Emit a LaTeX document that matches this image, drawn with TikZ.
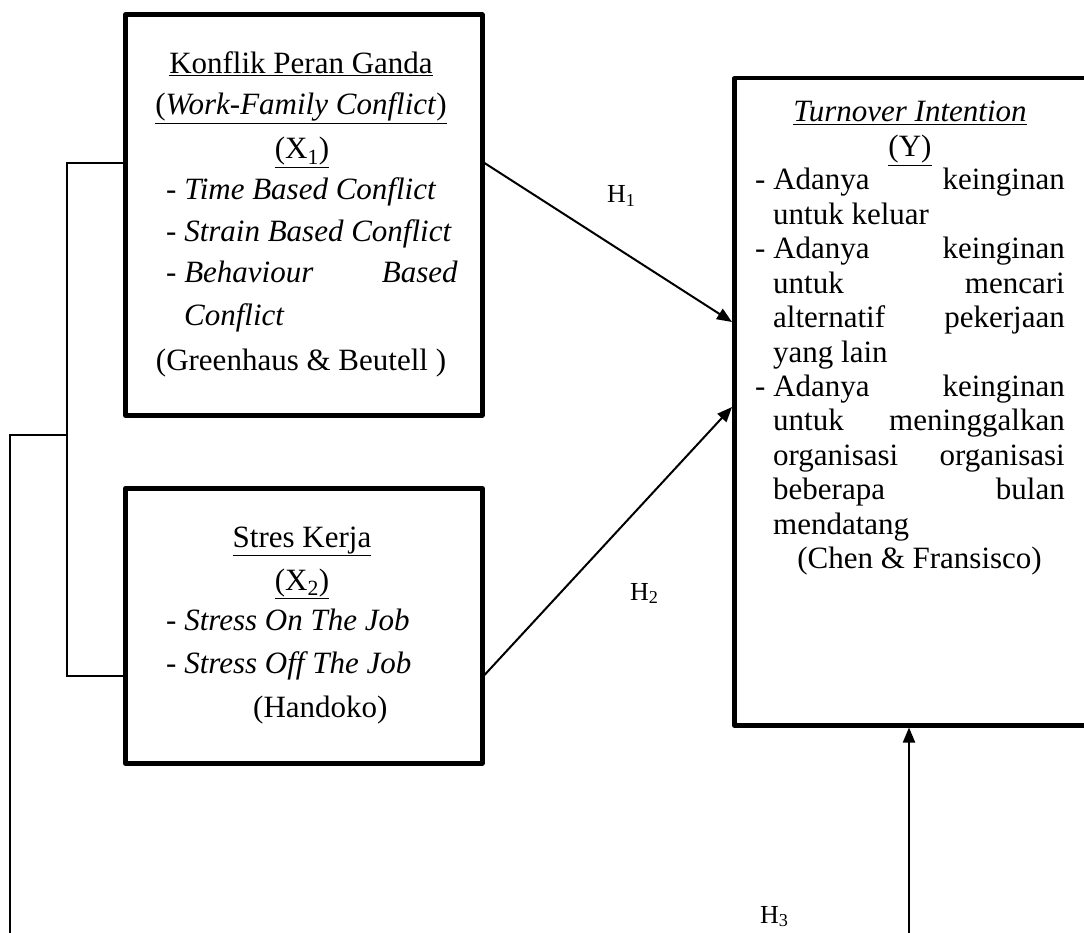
\documentclass[tikz,border=0pt]{standalone}
\usepackage{fontspec}
\setmainfont{Liberation Serif}
\usetikzlibrary{arrows.meta}
\begin{document}
\begin{tikzpicture}[x=1pt,y=-1pt,
  box/.style={draw, line width=4.5pt, line join=round, fill=white, inner sep=0pt},
  txt/.style={inner sep=0pt, font=\fontsize{31}{37}\selectfont},
  hlab/.style={inner sep=0pt, font=\fontsize{26}{30}\selectfont, anchor=base west},
  conn/.style={line width=1.3pt},
  arr/.style={line width=2pt, -{Triangle[length=15pt,width=12pt]}}]
\clip (0,0) rectangle (1084,933);
\fill[white] (0,0) rectangle (1084,933);

% boxes
\node[box, minimum width=357pt, minimum height=400.5pt, anchor=north west] (x1) at (123,12.5) {};
\node[box, minimum width=357pt, minimum height=275pt, anchor=north west] (x2) at (123,486) {};
\node[box, minimum width=363pt, minimum height=647pt, anchor=north west] (y) at (732,76) {};

% X1 text
\node[txt, anchor=base] (k1) at (301,74) {\underline{Konflik Peran Ganda}};
\node[txt, anchor=base] (k2) at (301,115) {\underline{(\textit{Work-Family Conflict})}};
\node[txt, anchor=base] (k3) at (302,159) {\underline{(X\textsubscript{1})}};
\node[txt, anchor=base west] (k4) at (166,200) {- \textit{Time Based Conflict}};
\node[txt, anchor=base west] (k5) at (166,242) {- \textit{Strain Based Conflict}};
\node[txt, anchor=base west] (k6) at (166,283) {- \textit{Behaviour}};
\node[txt, anchor=base east] (k6b) at (458,283) {\textit{Based}};
\node[txt, anchor=base west] (k7) at (184,325) {\textit{Conflict}};
\node[txt, anchor=base] (k8) at (301,370) {(Greenhaus \& Beutell )};

% X2 text
\node[txt, anchor=base] (s1) at (302,547) {\underline{Stres Kerja}};
\node[txt, anchor=base] (s2) at (302,590) {\underline{(X\textsubscript{2})}};
\node[txt, anchor=base west] (s3) at (166,630) {- \textit{Stress On The Job}};
\node[txt, anchor=base west] (s4) at (166,673) {- \textit{Stress Off The Job}};
\node[txt, anchor=base west] (s5) at (253,717) {(Handoko)};

% Y text
\node[txt, anchor=base] (y1) at (910,122) {\underline{\textit{Turnover Intention}}};
\node[txt, anchor=base] (y2) at (910,157) {\underline{(Y)}};
\node[txt, anchor=base west] (y3a) at (755,190) {- Adanya};
\node[txt, anchor=base east] (y3b) at (1065,190) {keinginan};
\node[txt, anchor=base west] (y4) at (773,224.4) {untuk keluar};
\node[txt, anchor=base west] (y5a) at (755,258.8) {- Adanya};
\node[txt, anchor=base east] (y5b) at (1065,258.8) {keinginan};
\node[txt, anchor=base west] (y6a) at (773,293.2) {untuk};
\node[txt, anchor=base east] (y6b) at (1065,293.2) {mencari};
\node[txt, anchor=base west] (y7a) at (773,327.6) {alternatif};
\node[txt, anchor=base east] (y7b) at (1065,327.6) {pekerjaan};
\node[txt, anchor=base west] (y8) at (773,362) {yang lain};
\node[txt, anchor=base west] (y9a) at (755,396.4) {- Adanya};
\node[txt, anchor=base east] (y9b) at (1065,396.4) {keinginan};
\node[txt, anchor=base west] (y10a) at (773,430.8) {untuk};
\node[txt, anchor=base east] (y10b) at (1065,430.8) {meninggalkan};
\node[txt, anchor=base west] (y11a) at (773,465.2) {organisasi};
\node[txt, anchor=base east] (y11b) at (1065,465.2) {organisasi};
\node[txt, anchor=base west] (y12a) at (773,499.6) {beberapa};
\node[txt, anchor=base east] (y12b) at (1065,499.6) {bulan};
\node[txt, anchor=base west] (y13) at (773,534) {mendatang};
\node[txt, anchor=base] (y14) at (919.5,568.4) {(Chen \& Fransisco)};

% hypothesis labels
\node[hlab] (h1) at (607,203) {H\textsubscript{1}};
\node[hlab] (h2) at (630,600) {H\textsubscript{2}};
\node[hlab] (h3) at (760,923) {H\textsubscript{3}};

% bracket
\coordinate (bt) at (67,163);
\coordinate (bb) at (67,676);
\coordinate (bm) at (67,435);
\coordinate (bl) at (10,435);
\coordinate (bend) at (10,945);
\draw[conn] (x1.west |- bt) -- (bt) -- (bb) -- (x2.west |- bb);
\draw[conn] (bm) -- (bl) -- (bend);

% arrows
\coordinate (a1) at (0,163);
\coordinate (a1t) at (0,322);
\coordinate (a2) at (0,675);
\coordinate (a2t) at (0,407);
\coordinate (h3s) at (909,945);
\draw[arr] (x1.east |- a1) -- (y.west |- a1t);
\draw[arr] (x2.east |- a2) -- (y.west |- a2t);
\draw[arr] (h3s) -- (y.south -| h3s);
\end{tikzpicture}
\end{document}
